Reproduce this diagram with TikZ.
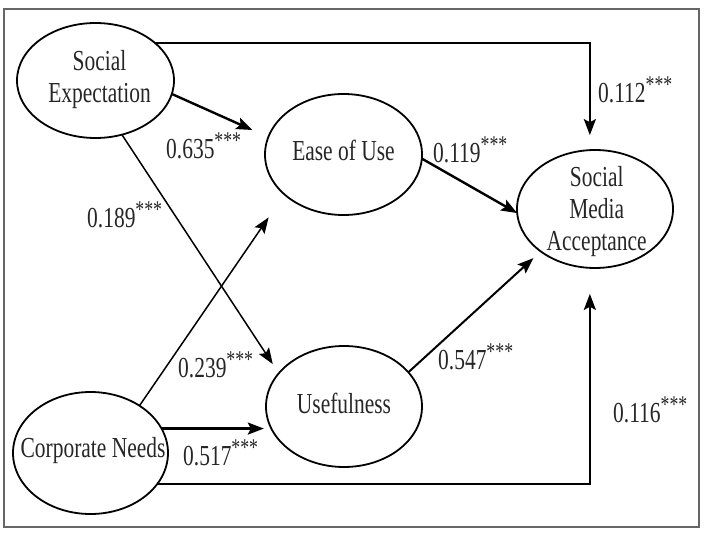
\documentclass[tikz,border=0pt]{standalone}
\usepackage{fontspec}
\setmainfont{Liberation Serif}[FakeStretch=0.74]
\usetikzlibrary{arrows.meta,shapes.geometric}
\newcommand{\sigstars}{\raisebox{10pt}{\fontsize{24}{24}\selectfont ***}}
\begin{document}
\begin{tikzpicture}[x=1pt,y=-1pt,
  ell/.style={ellipse, draw, line width=1.8pt, inner sep=0pt, outer sep=0pt},
  txt/.style={font=\fontsize{29}{32}\selectfont, align=center, inner sep=0pt, text=black!85},
  lbl/.style={font=\fontsize{29}{32}\selectfont, anchor=base west, inner sep=0pt, text=black!85},
  arr/.style={-{Stealth[length=16pt,width=12pt,inset=3pt]}},
  thickarr/.style={arr, line width=2.4pt},
  medarr/.style={arr, line width=2pt},
  thinarr/.style={arr, line width=1.5pt},
  routearr/.style={arr, line width=1.8pt}
]
\useasboundingbox (0,0) rectangle (719,535);
\draw[line width=1.6pt, draw=black!60] (4,9) rectangle (699,527);

% constructs
\node[ell, minimum width=157pt, minimum height=115pt,
  label={[txt, xshift=4pt, yshift=1pt]center:{Social\\Expectation}}] (se) at (95.5,80.5) {};
\node[ell, minimum width=157pt, minimum height=121pt,
  label={[txt, yshift=3.7pt]center:{Ease of Use}}] (eou) at (343.5,154.5) {};
\node[ell, minimum width=156pt, minimum height=121pt,
  label={[txt, yshift=3.5pt]center:{Usefulness}}] (use) at (344,406.5) {};
\node[ell, minimum width=155pt, minimum height=122pt,
  label={[txt, xshift=2.5pt, yshift=2pt]center:{Corporate Needs}}] (cn) at (90.5,453) {};
\node[ell, minimum width=156pt, minimum height=118pt,
  label={[txt, xshift=1.7pt, yshift=-2.5pt]center:{Social\\Media\\Acceptance}}] (sma) at (595,209) {};

% paths
\draw[thickarr, shorten >=17.5pt] (se.-10.5) -- (eou.167.9);
\draw[thinarr, shorten >=11pt] (se.-64.3) -- (use.153.9);
\draw[thinarr, shorten >=28pt] (cn.44.1) -- (eou.-146.6);
\draw[thickarr, shorten >=7pt] (cn.19) -- (cn.19 -| use.196.4);
\draw[thickarr] (eou.-3.3) -- (sma.183);
\draw[medarr, shorten >=10pt] (use.28.4) -- (sma.-142.2);
\draw[routearr, shorten >=15pt] (se.32.2) -| (sma.95.8);
\draw[routearr, shorten >=26pt] (cn.-25.4) -| (sma.-95.8);

% coefficients
\node[lbl] (l1) at (598,102) {0.112\sigstars};
\node[lbl] (l2) at (166,158) {0.635\sigstars};
\node[lbl] (l3) at (87,227) {0.189\sigstars};
\node[lbl] (l4) at (433,162) {0.119\sigstars};
\node[lbl] (l5) at (178,377) {0.239\sigstars};
\node[lbl] (l6) at (438,369) {0.547\sigstars};
\node[lbl] (l7) at (183,465) {0.517\sigstars};
\node[lbl] (l8) at (613,422) {0.116\sigstars};
\end{tikzpicture}
\end{document}
